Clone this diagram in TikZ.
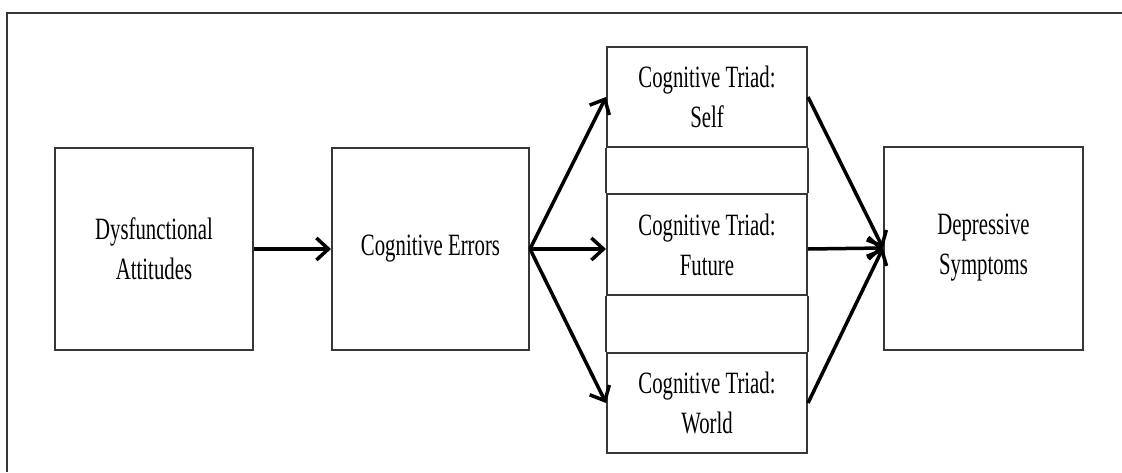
\documentclass[tikz,border=0pt]{standalone}
\usepackage{fontspec}
\setmainfont[FakeStretch=0.67]{Liberation Serif}
\definecolor{boxgray}{RGB}{55,55,55}
\usetikzlibrary{arrows.meta}
\usetikzlibrary{positioning}
\tikzset{
  stagebox/.style={draw=boxgray, line width=2pt, align=center, inner sep=0pt,
    font=\fontsize{31}{40}\selectfont, text=black},
  flow/.style={line width=3.5pt, -{Straight Barb[length=12pt,width=22pt]}}
}

\begin{document}
\begin{tikzpicture}[x=1pt,y=-1pt]
  \useasboundingbox (0,0) rectangle (1122,472);

  % frame
  \draw [boxgray, line width=1.5pt] (1122,13) -- (7,13) -- (7,472);

  \node [stagebox, minimum width=198pt, minimum height=202pt] (dys) at (154,249) {Dysfunctional\\Attitudes};
  \node [stagebox, minimum width=197pt, minimum height=202pt] (err) at (430.5,249) {Cognitive Errors};
  \node [stagebox, minimum width=200pt, minimum height=100pt] (self) at (707,97) {Cognitive Triad:\\Self};
  \node [stagebox, minimum width=200pt, minimum height=101pt] (future) at (707,244.5) {Cognitive Triad:\\Future};
  \node [stagebox, minimum width=200pt, minimum height=100pt] (world) at (707,403) {Cognitive Triad:\\World};
  \node [stagebox, minimum width=199pt, minimum height=203pt] (dep) at (983.5,248) {Depressive\\Symptoms};

  % column sides between the triad boxes
  \draw [boxgray, line width=2pt] (self.south west) -- (future.north west);
  \draw [boxgray, line width=2pt] (self.south east) -- (future.north east);
  \draw [boxgray, line width=2pt] (future.south west) -- (world.north west);
  \draw [boxgray, line width=2pt] (future.south east) -- (world.north east);

  \draw [flow] (dys.east) -- (err.west);
  \draw [flow] (err.east) -- (self.west);
  \draw [flow] (err.east) -- (future.west |- err.east);
  \draw [flow] (err.east) -- (world.west);
  \draw [flow] (self.east) -- (dep.west);
  \draw [flow] (future.east |- err.east) -- (dep.west);
  \draw [flow] (world.east) -- (dep.west);
\end{tikzpicture}
\end{document}
